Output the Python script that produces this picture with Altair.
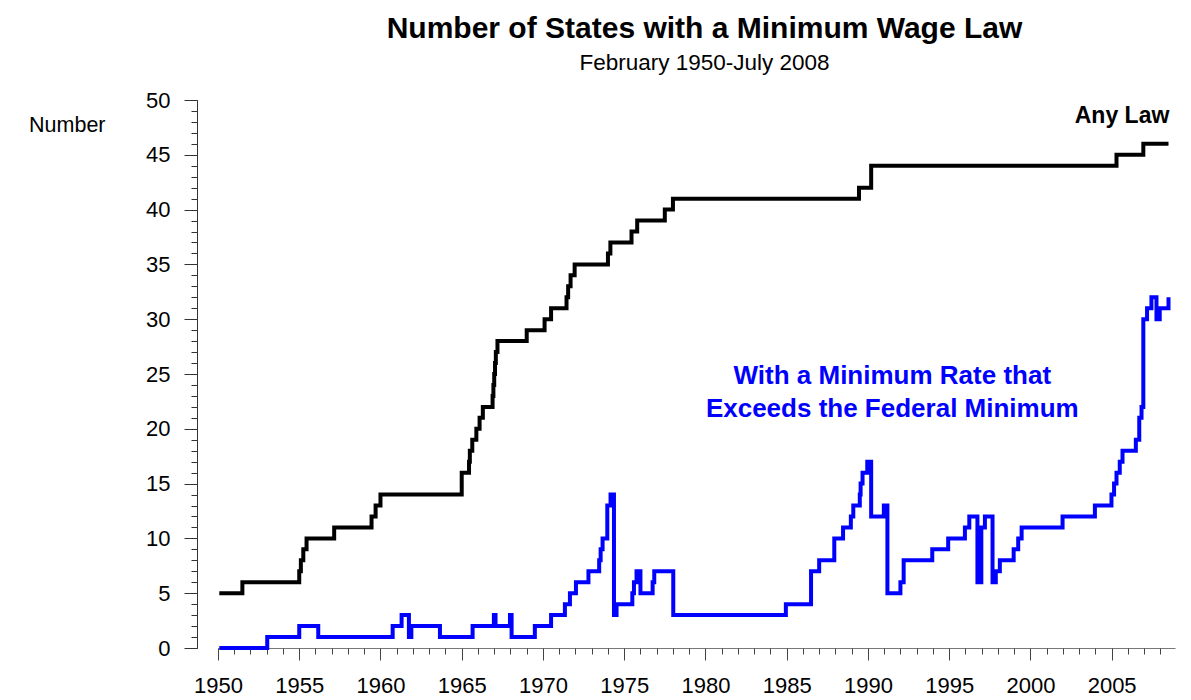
import altair as alt
import pandas as pd

# Any state minimum wage law (step changes: time in fractional years, count from then on)
any_law_year = [1950.08, 1951.5, 1955.0, 1955.1, 1955.25, 1955.45, 1957.15, 1959.45, 1959.7, 1960.0,
                1965.0, 1965.45, 1965.5, 1965.65, 1965.9, 1966.1, 1966.3, 1966.9, 1966.95, 1967.0,
                1967.05, 1967.1, 1967.2, 1969.0, 1970.1, 1970.5, 1971.45, 1971.55, 1971.7, 1971.95,
                1974.0, 1974.15, 1975.45, 1975.8, 1977.5, 1978.0, 1989.45, 1990.2, 2005.3, 2006.95,
                2008.5]
any_law_count = [5, 6, 7, 8, 9, 10, 11, 12, 13, 14,
                 16, 17, 18, 19, 20, 21, 22, 23, 24, 25,
                 26, 27, 28, 29, 30, 31, 32, 33, 34, 35,
                 36, 37, 38, 39, 40, 41, 42, 44, 45, 46,
                 46]

# States with a minimum rate exceeding the federal minimum
above_year = [1950.08, 1953.03, 1955.0, 1956.17, 1960.75, 1961.3, 1961.75, 1961.9, 1963.66, 1965.67,
              1966.98, 1967.08, 1967.97, 1968.07, 1969.5, 1970.5, 1971.35, 1971.66, 1972.03, 1972.8,
              1973.46, 1973.55, 1973.67, 1973.96, 1974.16, 1974.37, 1974.53, 1975.5, 1975.6, 1975.76,
              1976.0, 1976.75, 1976.85, 1978.02, 1984.95, 1986.5, 1987.0, 1987.93, 1988.47, 1988.95,
              1989.1, 1989.5, 1989.55, 1989.67, 1989.96, 1990.2, 1990.98, 1991.2, 1992.0, 1992.2,
              1993.96, 1994.94, 1995.97, 1996.24, 1996.74, 1996.98, 1997.2, 1997.67, 1997.87, 1998.12,
              1998.97, 1999.25, 1999.46, 2001.98, 2003.97, 2004.99, 2005.15, 2005.3, 2005.5, 2005.67,
              2006.49, 2006.7, 2006.84, 2006.95, 2007.18, 2007.45, 2007.76, 2007.96, 2008.5]
above_count = [0, 1, 2, 1, 2, 3, 1, 2, 1, 2,
               3, 2, 3, 1, 2, 3, 4, 5, 6, 7,
               8, 9, 10, 13, 14, 3, 4, 5, 6, 7,
               5, 6, 7, 3, 4, 7, 8, 10, 11, 12,
               13, 14, 15, 16, 17, 12, 13, 5, 6, 8,
               9, 10, 11, 12, 6, 11, 12, 6, 7, 8,
               9, 10, 11, 12, 13, 14, 15, 16, 17, 18,
               19, 21, 22, 30, 31, 32, 30, 31, 32]

x_major_ticks = list(range(1950, 2009, 5))
x_minor_ticks = list(range(1950, 2009))
y_major_ticks = list(range(0, 51, 5))
y_minor_ticks = list(range(0, 51))

FONT = "Liberation Sans"

df_any = pd.DataFrame({"year": any_law_year, "count": any_law_count})
df_above = pd.DataFrame({"year": above_year, "count": above_count})

x_scale = alt.Scale(domain=[1950, 2008.9], nice=False, zero=False)
y_scale = alt.Scale(domain=[0, 50], nice=False, zero=True)

# major axes (labels + long ticks)
x_major = alt.X(
    "year:Q",
    scale=x_scale,
    axis=alt.Axis(
        orient="bottom",
        values=x_major_ticks,
        format="d",
        tickSize=12,
        labelFontSize=22,
        labelFont=FONT,
        labelColor="#000000",
        labelPadding=15,
        labelOverlap=False,
        labelFlush=False,
        labelBound=False,
        domainColor="#777777",
        tickColor="#444444",
        grid=False,
        title=None,
    ),
)
y_major = alt.Y(
    "count:Q",
    scale=y_scale,
    axis=alt.Axis(
        orient="left",
        values=y_major_ticks,
        tickSize=13,
        offset=21,
        labelFontSize=22,
        labelFont=FONT,
        labelColor="#000000",
        labelPadding=14,
        labelOverlap=False,
        labelFlush=False,
        labelBound=False,
        domainColor="#333333",
        tickColor="#333333",
        grid=False,
        title="Number",
        titleAngle=0,
        titleFont=FONT,
        titleFontSize=21.5,
        titleFontWeight="normal",
        titleColor="#000000",
        titleAlign="right",
        titleBaseline="middle",
        titleX=-92,
        titleY=25,
    ),
)

# minor axes (short ticks only)
x_minor = alt.X(
    "year:Q",
    scale=x_scale,
    axis=alt.Axis(
        orient="bottom",
        values=x_minor_ticks,
        tickSize=6,
        labels=False,
        domain=False,
        tickColor="#444444",
        grid=False,
        title=None,
    ),
)
y_minor = alt.Y(
    "count:Q",
    scale=y_scale,
    axis=alt.Axis(
        orient="left",
        values=y_minor_ticks,
        tickSize=6,
        offset=21,
        labels=False,
        domain=False,
        tickColor="#333333",
        grid=False,
        title=None,
    ),
)

line_any = alt.Chart(df_any).mark_line(
    interpolate="step-after", color="#000000", strokeWidth=4, strokeJoin="miter"
).encode(x=x_major, y=y_major)

label_any = alt.Chart(pd.DataFrame({"t": ["Any Law"]})).mark_text(
    font=FONT, fontSize=23, fontWeight="bold", color="#000000", align="right", baseline="middle"
).encode(x=alt.datum(2008.55), y=alt.datum(48.5), text="t:N")

label_above = alt.Chart(pd.DataFrame({"t": ["x"]})).mark_text(
    font=FONT, fontSize=26, fontWeight="bold", color="#0000FF", align="center", baseline="middle",
    lineHeight=33,
).encode(
    x=alt.datum(1991.5),
    y=alt.datum(24.8),
    text=alt.value(["With a Minimum Rate that", "Exceeds the Federal Minimum"]),
)

major_layer = alt.layer(line_any, label_any, label_above)

line_above = alt.Chart(df_above).mark_line(
    interpolate="step-after", color="#0000FF", strokeWidth=4, strokeJoin="miter"
).encode(x=x_minor, y=y_minor)

chart = alt.layer(major_layer, line_above).resolve_axis(
    x="independent", y="independent"
).properties(
    width=957,
    height=548,
    title=alt.TitleParams(
        text="Number of States with a Minimum Wage Law",
        subtitle="February 1950-July 2008",
        font=FONT,
        fontSize=30,
        fontWeight="bold",
        color="#000000",
        subtitleFont=FONT,
        subtitleFontSize=22.5,
        subtitleColor="#000000",
        subtitlePadding=8,
        anchor="middle",
        frame="group",
        dx=8,
        offset=15,
    ),
    autosize=alt.AutoSizeParams(type="none"),
    padding={"left": 210, "top": 92, "right": 8, "bottom": 52},
).configure_view(stroke=None)

chart.save("out.html", embed_options={"renderer": "svg", "actions": False})
